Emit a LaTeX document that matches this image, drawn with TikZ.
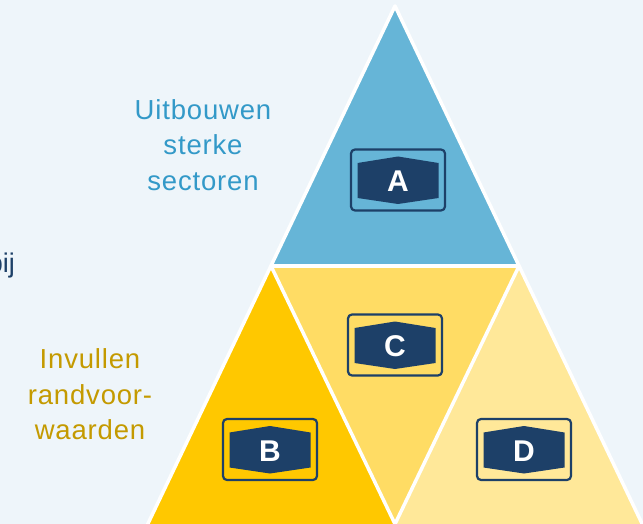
\documentclass[tikz,border=0pt]{standalone}
\usepackage{fontspec}
\setmainfont{Liberation Sans}
\definecolor{bgc}{HTML}{EEF5FA}
\definecolor{ablue}{HTML}{66B5D7}
\definecolor{byel}{HTML}{FFC800}
\definecolor{cyel}{HTML}{FFDC64}
\definecolor{dyel}{HTML}{FFE899}
\definecolor{navy}{HTML}{1D4068}
\definecolor{txtblue}{HTML}{3399C8}
\definecolor{txtgold}{HTML}{C49A00}
\tikzset{
  sep/.style={white, line width=3.5pt, line cap=round, line join=round},
  lbl/.style={align=center, inner sep=0pt, font=\fontsize{27.5}{35.5}\selectfont\addfontfeature{LetterSpace=3}},
  badge/.pic={
    \draw[navy, line width=2.2pt, rounded corners=4pt] (-47,-30.5) rectangle (47,30.5);
    \fill[navy] (-40.5,-17) -- (0,-23.5) -- (40.5,-17) -- (40.5,18) -- (0,24) -- (-40.5,18) -- cycle;
    \node[white, font=\bfseries\fontsize{30}{30}\selectfont, inner sep=0pt] (-letter) at (0,1.5) {#1};
  }
}
\begin{document}
\begin{tikzpicture}[x=1pt, y=-1pt]
\useasboundingbox (0,0) rectangle (643,524);
\fill[bgc] (0,0) rectangle (643,524);
\coordinate (T) at (395,6);
\coordinate (ML) at (271,266);
\coordinate (MR) at (519,266);
\coordinate (BL) at (148,524);
\coordinate (BM) at (395,524);
\coordinate (BR) at (642,524);
\coordinate (BLx) at (143,534);
\coordinate (BRx) at (647,534);
% triangles
\fill[ablue] (T) -- (ML) -- (MR) -- cycle;
\fill[byel] (ML) -- (BL) -- (BM) -- cycle;
\fill[cyel] (ML) -- (MR) -- (BM) -- cycle;
\fill[dyel] (MR) -- (BM) -- (BR) -- cycle;
% separators
\draw[sep] (BLx) -- (T) -- (BRx);
\draw[sep] (ML) -- (MR);
\draw[sep] (ML) -- (BM) -- (MR);
% badges
\pic (a) at (398,180) {badge=A};
\pic (b) at (270,449.5) {badge=B};
\pic (c) at (395,345) {badge=C};
\pic (d) at (524,449.5) {badge=D};
% labels
\node[lbl, txtblue] (lup) at (203,145) {Uitbouwen\\sterke\\sectoren};
\node[lbl, txtgold] (llow) at (90,394.5) {Invullen\\randvoor-\\waarden};
\node[navy, font=\fontsize{27}{27}\selectfont, inner sep=0pt, anchor=base east] (lbij) at (15,272) {bij};
\end{tikzpicture}
\end{document}
